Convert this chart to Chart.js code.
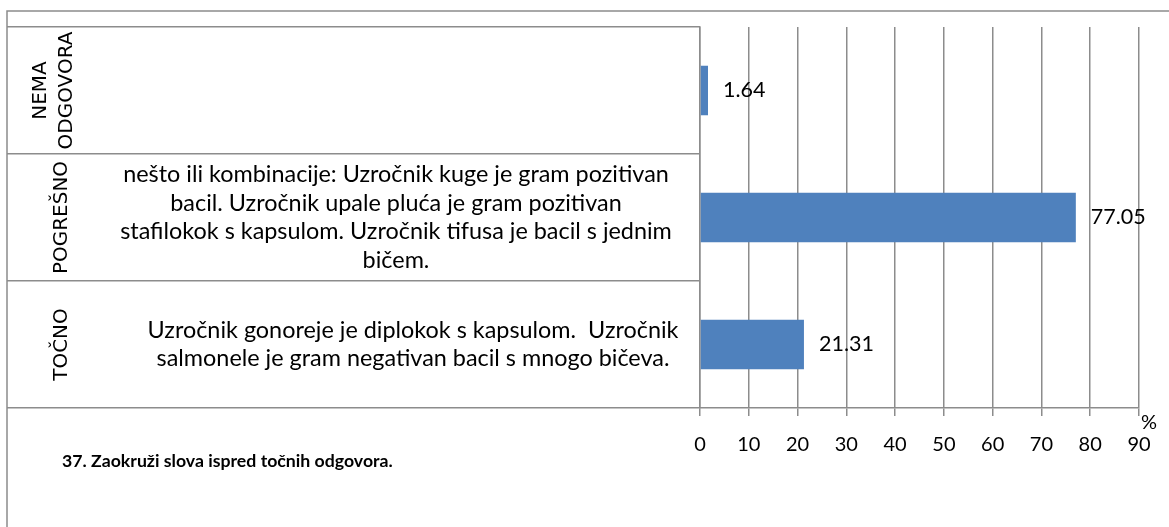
<!DOCTYPE html>
<html>
<head>
<meta charset="utf-8">
<script src="https://cdn.jsdelivr.net/npm/chart.js@4"></script>
<style>
  html, body { margin: 0; padding: 0; background: #fff; }
  #wrap { width: 1169px; height: 527px; }
</style>
</head>
<body>
<div id="wrap"><canvas id="barChart" width="1169" height="527"></canvas></div>
<script>
// answer groups, top to bottom
var groups = ['NEMA ODGOVORA', 'POGREŠNO', 'TOČNO'];
var groupLines = [['NEMA', 'ODGOVORA'], ['POGREŠNO'], ['TOČNO']];
var answers = [
  [],
  ['nešto ili kombinacije: Uzročnik kuge je gram pozitivan',
   'bacil. Uzročnik upale pluća je gram pozitivan',
   'stafilokok s kapsulom. Uzročnik tifusa je bacil s jednim',
   'bičem.'],
  ['Uzročnik gonoreje je diplokok s kapsulom.  Uzročnik',
   'salmonele je gram negativan bacil s mnogo bičeva.']
];
var percent = [1.64, 77.05, 21.31];
var xMin = 0, xMax = 90, xStep = 10;
var question = '37. Zaokruži slova ispred točnih odgovora.';

var lineGrey = '#8c8c8c';
var textFont = 'Lato, Carlito, sans-serif';

var panel = {
  id: 'panel',
  beforeDraw: function (chart) {
    var ctx = chart.ctx;
    ctx.save();
    ctx.strokeStyle = lineGrey;
    ctx.lineWidth = 1.5;
    ctx.beginPath();
    ctx.moveTo(7, chart.height);
    ctx.lineTo(7, 11);
    ctx.lineTo(chart.width, 11);
    ctx.stroke();
    ctx.restore();
  },
  afterDraw: function (chart, args, opts) {
    var ctx = chart.ctx;
    var y = chart.scales.y;
    var x = chart.scales.x;
    ctx.save();
    ctx.fillStyle = '#000';

    // rotated group names
    ctx.font = '20px "DejaVu Sans", sans-serif';
    ctx.textAlign = 'center';
    ctx.textBaseline = 'middle';
    groupLines.forEach(function (lines, i) {
      var cy = y.getPixelForValue(i);
      var cx = opts.groupX - (lines.length - 1) * 8;
      ctx.save();
      ctx.translate(cx, cy);
      ctx.rotate(-Math.PI / 2);
      lines.forEach(function (t, k) {
        ctx.fillText(t, 0, (k - (lines.length - 1) / 2) * 26);
      });
      ctx.restore();
    });

    // answer text
    ctx.font = '23.4px ' + textFont;
    answers.forEach(function (lines, i) {
      var cy = y.getPixelForValue(i);
      lines.forEach(function (t, k) {
        ctx.fillText(t, opts.textCenters[i], cy + (k - (lines.length - 1) / 2) * 28.7);
      });
    });

    // value labels
    ctx.font = '21.5px ' + textFont;
    ctx.textAlign = 'left';
    chart.getDatasetMeta(0).data.forEach(function (bar, i) {
      ctx.fillText(String(percent[i]), bar.x + 15, bar.y);
    });

    // unit
    ctx.font = '20px ' + textFont;
    ctx.fillText('%', x.right + 2, x.top + 15);

    // question title
    ctx.font = 'bold 17.7px ' + textFont;
    ctx.fillText(question, 62, 461);
    ctx.restore();
  }
};

var ctx = document.getElementById('barChart').getContext('2d');
var barChart = new Chart(ctx, {
  type: 'bar',
  data: {
    labels: groups,
    datasets: [{
      label: '%',
      data: percent,
      backgroundColor: '#4f81bd',
      borderWidth: 0,
      barPercentage: 0.39,
      categoryPercentage: 1
    }]
  },
  options: {
    indexAxis: 'y',
    responsive: false,
    animation: false,
    layout: { padding: { left: 7, top: 27, right: 30, bottom: 53 } },
    plugins: {
      legend: { display: false },
      tooltip: { enabled: false },
      panel: { groupX: 62, textCenters: [396, 396, 413] }
    },
    scales: {
      x: {
        min: xMin,
        max: xMax,
        ticks: {
          stepSize: xStep,
          color: '#000',
          padding: 17,
          maxRotation: 0,
          font: { family: textFont, size: 20 }
        },
        grid: { color: lineGrey, lineWidth: 1.5, tickLength: 8 },
        border: { color: lineGrey, width: 1.5 }
      },
      y: {
        ticks: { display: false },
        grid: {
          offset: true,
          drawOnChartArea: false,
          color: lineGrey,
          lineWidth: 1.5,
          tickLength: 693
        },
        border: { color: lineGrey, width: 1.5 }
      }
    }
  },
  plugins: [panel]
});
</script>
</body>
</html>
